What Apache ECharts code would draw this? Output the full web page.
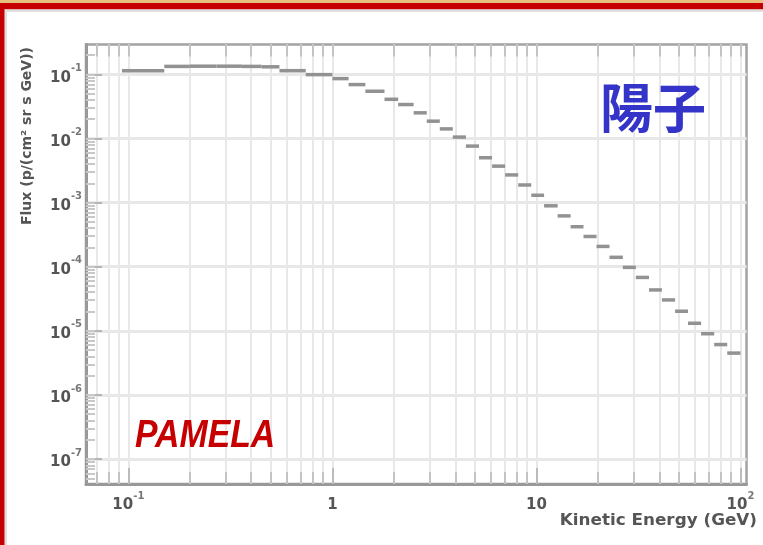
<!DOCTYPE html>
<html><head><meta charset="utf-8">
<script src="https://cdn.jsdelivr.net/npm/echarts@6/dist/echarts.min.js"></script>
<style>html,body{margin:0;padding:0;background:#fff}#c{width:763px;height:545px}</style>
</head><body><div id="c"></div>
<script>
// Energy bins (GeV) and flux values (p / cm^2 sr s GeV)
const binLow  = [0.093, 0.15, 0.20, 0.27, 0.36, 0.45, 0.55, 0.74, 1.0, 1.2, 1.45, 1.8, 2.1,
  2.5, 2.90, 3.36, 3.89, 4.51, 5.23, 6.06, 7.02, 8.14, 9.43, 10.9, 12.7, 14.7, 17.0, 19.7,
  22.8, 26.5, 30.7, 35.6, 41.2, 47.8, 55.3, 64.1, 74.3, 86.1];
const binHigh = [0.15, 0.20, 0.27, 0.36, 0.45, 0.55, 0.74, 1.0, 1.2, 1.45, 1.8, 2.1, 2.5,
  2.90, 3.36, 3.89, 4.51, 5.23, 6.06, 7.02, 8.14, 9.43, 10.9, 12.7, 14.7, 17.0, 19.7, 22.8,
  26.5, 30.7, 35.6, 41.2, 47.8, 55.3, 64.1, 74.3, 86.1, 100];
const flux = [0.114, 0.133, 0.134, 0.134, 0.133, 0.131, 0.114, 0.099, 0.0858, 0.0692, 0.0545,
  0.0408, 0.0338, 0.0251, 0.0186, 0.0141, 0.0105, 0.0076, 0.0050, 0.0037, 0.0027, 0.00188,
  0.0013, 0.00089, 0.00062, 0.00042, 0.000296, 0.000207, 0.000140, 0.0000976, 0.000068,
  0.0000434, 0.0000303, 0.0000202, 0.0000131, 0.0000090, 0.0000061, 0.00000449];

// axis ticks (decade exponents)
const xTickExp = [-1, 0, 1, 2];
const xTickText = ['10^-1', '1', '10', '10^2'];
const yTickExp = [-1, -2, -3, -4, -5, -6, -7];
const yTickText = ['10^-1', '10^-2', '10^-3', '10^-4', '10^-5', '10^-6', '10^-7'];

const xRange = [0.0620, 107];
const yRange = [4.08e-8, 0.292];

const XMIN = Math.log10(xRange[0]), XMAX = Math.log10(xRange[1]);
const YMIN = Math.log10(yRange[0]), YMAX = Math.log10(yRange[1]);

function minorVals(lo, hi) {
  const out = [];
  for (let d = Math.floor(lo) - 1; d <= Math.ceil(hi); d++) {
    for (let k = 1; k <= 9; k++) {
      const v = d + Math.log10(k);
      if (v > lo + 1e-6 && v < hi - 1e-6) out.push(v);
    }
  }
  return out;
}
const xMinor = minorVals(XMIN, XMAX);
const yMinor = minorVals(YMIN, YMAX);

function richLabel(t) {
  const i = t.indexOf('^');
  if (i < 0) return '{b|' + t + '}';
  return '{b|' + t.slice(0, i) + '}{s|' + t.slice(i + 1) + '}';
}
const FONT = 'DejaVu Sans';
const labelRich = {
  b: { fontSize: 15, fontWeight: 'bold', color: '#555', fontFamily: FONT, verticalAlign: 'bottom', lineHeight: 22 },
  s: { fontSize: 10, fontWeight: 'bold', color: '#777', fontFamily: FONT, verticalAlign: 'top', lineHeight: 22 }
};

const segData = flux.map((v, i) => [Math.log10(binLow[i]), Math.log10(binHigh[i]), Math.log10(v)]);

const axisCol = '#a3a3a3';
const chart = echarts.init(document.getElementById('c'));
chart.setOption({
  animation: false,
  backgroundColor: '#fff',
  grid: { left: 86, right: 16.5, top: 44.5, bottom: 61, show: true, borderColor: axisCol, borderWidth: 2.5, backgroundColor: '#fff' },
  xAxis: [
    { type: 'value', min: XMIN, max: XMAX, position: 'bottom',
      axisLine: { show: true, onZero: false, lineStyle: { color: '#999', width: 3 } },
      axisTick: { show: true, inside: true, length: 12, customValues: xMinor, lineStyle: { color: '#c4c4c4', width: 2 } },
      axisLabel: { show: false },
      splitLine: { show: true, lineStyle: { color: '#e8e8e8', width: 2 } } },
    { type: 'value', min: XMIN, max: XMAX, position: 'bottom',
      axisLine: { show: false, onZero: false },
      axisTick: { show: true, inside: true, length: 16, customValues: xTickExp, lineStyle: { color: '#bbb', width: 2 } },
      axisLabel: { show: true, margin: 7, customValues: xTickExp,
        formatter: v => richLabel(xTickText[xTickExp.indexOf(Math.round(v))]), rich: labelRich },
      splitLine: { show: false } },
    { type: 'value', min: XMIN, max: XMAX, position: 'top',
      axisLine: { show: false, onZero: false },
      axisTick: { show: true, inside: true, length: 12, customValues: xMinor, lineStyle: { color: '#c4c4c4', width: 2 } },
      axisLabel: { show: false }, splitLine: { show: false } }
  ],
  yAxis: [
    { type: 'value', min: YMIN, max: YMAX, position: 'left',
      axisLine: { show: true, onZero: false, lineStyle: { color: '#999', width: 3 } },
      axisTick: { show: true, inside: true, length: 16, customValues: yTickExp, lineStyle: { color: '#b5b5b5', width: 2 } },
      axisLabel: { show: true, margin: 4, customValues: yTickExp,
        formatter: v => richLabel(yTickText[yTickExp.indexOf(Math.round(v))]), rich: labelRich },
      splitLine: { show: true, lineStyle: { color: '#e8e8e8', width: 3 } } },
    { type: 'value', min: YMIN, max: YMAX, position: 'left',
      axisLine: { show: false, onZero: false },
      axisTick: { show: true, inside: true, length: 9, customValues: yMinor, lineStyle: { color: '#c8c8c8', width: 2 } },
      axisLabel: { show: false }, splitLine: { show: false } }
  ],
  series: [{
    type: 'custom',
    xAxisIndex: 0, yAxisIndex: 0,
    data: segData,
    encode: { x: [0, 1], y: 2 },
    renderItem: (params, api) => {
      const p1 = api.coord([api.value(0), api.value(2)]);
      const p2 = api.coord([api.value(1), api.value(2)]);
      return { type: 'line', shape: { x1: p1[0], y1: p1[1], x2: p2[0], y2: p2[1] },
        style: { stroke: '#929292', lineWidth: 3.5 } };
    },
    z: 5
  }],
  graphic: [
    { type: 'rect', z: 100, shape: { x: 0, y: 0, width: 763, height: 3 }, style: { fill: '#e8c27c' } },
    { type: 'rect', z: 100, shape: { x: 0, y: 3, width: 763, height: 6.5 }, style: { fill: '#c60000' } },
    { type: 'rect', z: 100, shape: { x: 4.5, y: 9.5, width: 759, height: 2.5 }, style: { fill: '#e0e0e0' } },
    { type: 'rect', z: 100, shape: { x: 4.5, y: 9.5, width: 2.5, height: 536 }, style: { fill: '#e0e0e0' } },
    { type: 'rect', z: 100, shape: { x: 0, y: 3, width: 4.5, height: 542 }, style: { fill: '#c60000' } },
    { type: 'text', z: 100, x: 757, y: 521, scaleX: 1.05, style: { text: 'Kinetic Energy (GeV)', fill: '#555',
        font: 'bold 16px "DejaVu Sans"', textAlign: 'right', textVerticalAlign: 'middle' } },
    { type: 'text', z: 100, x: 27, y: 225, rotation: Math.PI / 2, style: { text: 'Flux (p/(cm² sr s GeV))', fill: '#555',
        font: 'bold 14px "DejaVu Sans"', textAlign: 'left', textVerticalAlign: 'middle' } },
    { type: 'text', z: 100, x: 653, y: 108, style: { text: '陽子', fill: '#3434c8',
        font: 'bold 53px "Noto Sans CJK JP"', textAlign: 'center', textVerticalAlign: 'middle' } },
    { type: 'text', z: 100, x: 135, y: 437, scaleX: 0.89, style: { text: 'PAMELA', fill: '#c60000',
        font: 'italic bold 38px "Liberation Sans"', textAlign: 'left', textVerticalAlign: 'middle' } }
  ]
});
</script></body></html>
